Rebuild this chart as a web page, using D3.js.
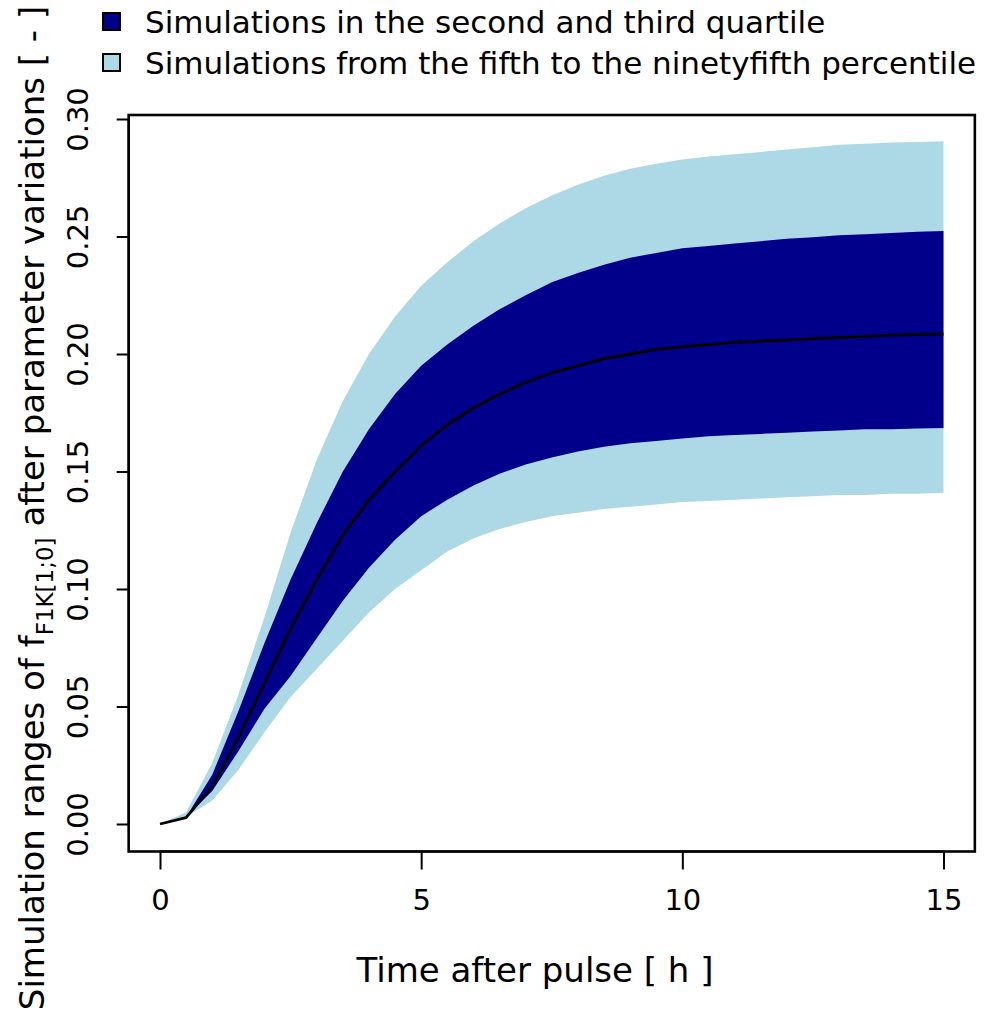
<!DOCTYPE html>
<html>
<head>
<meta charset="utf-8">
<script src="https://cdn.jsdelivr.net/npm/d3@7"></script>
<style>
  html, body { margin: 0; padding: 0; background: #fff; }
  svg { display: block; }
  text { font-family: "DejaVu Sans", Verdana, sans-serif; fill: #000; }
</style>
</head>
<body>
<svg id="chart" width="987" height="1019"></svg>
<script>
// Time after pulse (h)
const hours = [0, 0.5, 1, 1.5, 2, 2.5, 3, 3.5, 4, 4.5, 5, 5.5, 6, 6.5, 7, 7.5,
  8, 8.5, 9, 9.5, 10, 10.5, 11, 11.5, 12, 12.5, 13, 13.5, 14, 14.5, 15];

// 5th percentile of the simulations
const p05 = [0, 0.003, 0.010, 0.023, 0.039, 0.054, 0.066, 0.078, 0.090, 0.100, 0.108,
  0.116, 0.1215, 0.1255, 0.1285, 0.131, 0.1325, 0.134, 0.135, 0.136, 0.137, 0.1375,
  0.138, 0.1385, 0.139, 0.1395, 0.140, 0.140, 0.1405, 0.1405, 0.141];
// 25th percentile
const p25 = [0, 0.003, 0.014, 0.031, 0.049, 0.063, 0.079, 0.095, 0.109, 0.121, 0.131,
  0.138, 0.144, 0.149, 0.153, 0.156, 0.1585, 0.1605, 0.162, 0.163, 0.164, 0.165,
  0.1655, 0.166, 0.1665, 0.167, 0.1675, 0.168, 0.168, 0.1683, 0.1685];
// Median
const p50 = [0, 0.0027, 0.016, 0.037, 0.060, 0.083, 0.104, 0.123, 0.138, 0.150, 0.161,
  0.170, 0.177, 0.183, 0.188, 0.192, 0.195, 0.198, 0.200, 0.202, 0.203, 0.204,
  0.205, 0.2055, 0.206, 0.2065, 0.207, 0.2075, 0.208, 0.2083, 0.2085];
// 75th percentile
const p75 = [0, 0.003, 0.021, 0.048, 0.077, 0.104, 0.128, 0.150, 0.168, 0.183, 0.195,
  0.204, 0.212, 0.219, 0.225, 0.2305, 0.2345, 0.238, 0.241, 0.243, 0.245, 0.246,
  0.247, 0.248, 0.249, 0.2497, 0.2505, 0.251, 0.2515, 0.252, 0.2523];
// 95th percentile
const p95 = [0, 0.005, 0.026, 0.055, 0.088, 0.124, 0.155, 0.180, 0.200, 0.216, 0.229,
  0.239, 0.248, 0.2555, 0.262, 0.2675, 0.272, 0.2758, 0.2788, 0.281, 0.2828, 0.284,
  0.285, 0.286, 0.287, 0.288, 0.289, 0.2895, 0.290, 0.2902, 0.2905];

const xTicks = [0, 5, 10, 15];
const yTicks = [0, 0.05, 0.10, 0.15, 0.20, 0.25, 0.30];
const xLim = [-0.6, 15.6];
const yLim = [-0.0117, 0.3017];

const legendLabels = [
  "Simulations in the second and third quartile",
  "Simulations from the fifth to the ninetyfifth percentile"
];
const colDark = "#00008B";
const colLight = "#ADD8E6";

const svg = d3.select("#chart");

const x = d3.scaleLinear().domain([0, 15]).range([160, 943.5]);
const y = d3.scaleLinear().domain([0, 0.30]).range([824, 119]);

const rows = hours.map((t, i) => ({ t, lo5: p05[i], lo25: p25[i], mid: p50[i], hi75: p75[i], hi95: p95[i] }));

// Percentile bands
const band = (lo, hi) => d3.area()
  .x(d => x(d.t))
  .y0(d => y(d[lo]))
  .y1(d => y(d[hi]));

svg.append("path")
  .attr("d", band("lo5", "hi95")(rows))
  .attr("fill", colLight);
svg.append("path")
  .attr("d", band("lo25", "hi75")(rows))
  .attr("fill", colDark);

// Median trajectory
svg.append("path")
  .attr("d", d3.line().x(d => x(d.t)).y(d => y(d.mid))(rows))
  .attr("fill", "none")
  .attr("stroke", "#000")
  .attr("stroke-width", 2.8)
  .attr("stroke-linejoin", "round");

// Plot frame
const bx0 = x(xLim[0]), bx1 = x(xLim[1]);
const by0 = y(yLim[1]), by1 = y(yLim[0]);
svg.append("rect")
  .attr("x", bx0).attr("y", by0)
  .attr("width", bx1 - bx0).attr("height", by1 - by0)
  .attr("fill", "none").attr("stroke", "#000").attr("stroke-width", 2.6);

// X axis
const xAxis = svg.append("g").attr("transform", `translate(0,${by1})`)
  .call(d3.axisBottom(x).tickValues(xTicks).tickFormat(d3.format("d"))
    .tickSize(18).tickSizeOuter(0).tickPadding(20));
xAxis.select(".domain").attr("stroke-width", 2)
  .attr("d", `M${x(xTicks[0])},0H${x(xTicks[xTicks.length - 1])}`);
xAxis.selectAll(".tick line").attr("stroke-width", 2);
xAxis.selectAll(".tick text").attr("font-size", 29).attr("font-family", "DejaVu Sans");

// Y axis with rotated labels
const yAxis = svg.append("g").attr("transform", `translate(${bx0},0)`)
  .call(d3.axisLeft(y).tickValues(yTicks).tickFormat(d3.format(".2f"))
    .tickSize(12).tickSizeOuter(0));
yAxis.select(".domain").attr("stroke-width", 2)
  .attr("d", `M0,${y(yTicks[0])}V${y(yTicks[yTicks.length - 1])}`);
yAxis.selectAll(".tick line").attr("stroke-width", 2);
yAxis.selectAll(".tick text")
  .attr("font-size", 29).attr("font-family", "DejaVu Sans")
  .attr("x", null).attr("dy", null)
  .attr("text-anchor", "middle")
  .attr("transform", "translate(-51,0) rotate(-90)")
  .attr("dominant-baseline", "central");

// Axis titles
svg.append("text")
  .attr("x", 535).attr("y", 982)
  .attr("text-anchor", "middle")
  .attr("font-size", 34)
  .text("Time after pulse [ h ]");

const yTitle = svg.append("text")
  .attr("transform", "translate(44,508) rotate(-90)")
  .attr("text-anchor", "middle")
  .attr("font-size", 34);
yTitle.append("tspan").text("Simulation ranges of f");
yTitle.append("tspan").attr("font-size", 23).attr("dy", 9).text("F1K[1;0]");
yTitle.append("tspan").attr("dy", -9).text(" after parameter variations [ - ]");

// Legend
const legend = svg.append("g");
legendLabels.forEach((label, i) => {
  const ly = 22 + i * 41;
  legend.append("rect")
    .attr("x", 103).attr("y", ly - 9).attr("width", 17).attr("height", 17)
    .attr("fill", i === 0 ? colDark : colLight)
    .attr("stroke", "#000").attr("stroke-width", 2);
  legend.append("text")
    .attr("x", 145).attr("y", ly)
    .attr("dominant-baseline", "central")
    .attr("font-size", 31)
    .text(label);
});
</script>
</body>
</html>
